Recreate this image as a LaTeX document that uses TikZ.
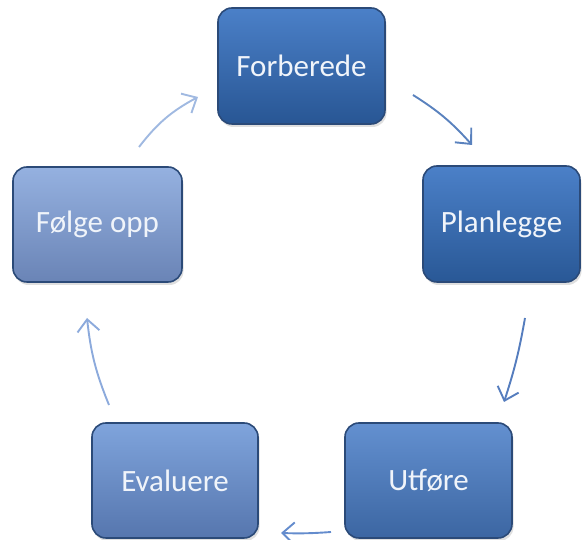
\documentclass[tikz,border=0pt]{standalone}
\usepackage{fontspec}
\setmainfont{Carlito}
\usetikzlibrary{arrows.meta,shadows}
\definecolor{bordc}{HTML}{2B4A78}
\definecolor{txtc}{HTML}{F0F4FA}
\definecolor{fT}{HTML}{4B80C8}\definecolor{fB}{HTML}{285694}
\definecolor{pT}{HTML}{4B80C8}\definecolor{pB}{HTML}{295896}
\definecolor{uT}{HTML}{6390D0}\definecolor{uB}{HTML}{3C66A2}
\definecolor{eT}{HTML}{7FA4DC}\definecolor{eB}{HTML}{5676AE}
\definecolor{gT}{HTML}{95B1E0}\definecolor{gB}{HTML}{6A84B6}
\definecolor{ar1}{RGB}{160,185,225}
\definecolor{ar2}{RGB}{90,130,190}
\definecolor{ar3}{RGB}{85,125,190}
\definecolor{ar4}{RGB}{100,140,205}
\definecolor{ar5}{RGB}{140,170,220}
\tikzset{
  stagebox/.style={draw=bordc, line width=1.6pt, rounded corners=14pt,
    minimum width=167pt, minimum height=116pt, inner sep=0pt,
    text=txtc, font=\fontsize{31}{36}\selectfont,
    drop shadow={shadow xshift=1.5pt, shadow yshift=-3pt, opacity=0.25}},
  flowarrow/.style={line width=1.9pt, -{Straight Barb[length=12pt,width=22pt,line width=1.9pt]}},
}
\begin{document}
\begin{tikzpicture}[x=1pt,y=1pt]
\useasboundingbox (0,0) rectangle (582,540);
\node[stagebox, top color=fT, bottom color=fB] (forb) at (301.5,474) {Forberede};
\node[stagebox, minimum width=157pt, top color=pT, bottom color=pB] (plan) at (501.5,316) {Planlegge};
\node[stagebox, minimum height=115pt, top color=uT, bottom color=uB] (utf) at (428.5,59.5) {Utføre};
\node[stagebox, minimum width=166pt, minimum height=115pt, top color=eT, bottom color=eB] (eval) at (175,59.5) {Evaluere};
\node[stagebox, minimum width=169pt, minimum height=115pt, top color=gT, bottom color=gB] (folg) at (97.5,315.5) {Følge opp};
\coordinate (a1s) at (139,393);
\coordinate (a1e) at (198,443);
\coordinate (a2s) at (413,445);
\coordinate (a2e) at (472,395);
\coordinate (a3s) at (525,222);
\coordinate (a3e) at (504,138);
\coordinate (a4s) at (331,8);
\coordinate (a4e) at (281,7);
\coordinate (a5s) at (109,135);
\coordinate (a5e) at (87,222);
\draw[flowarrow, draw=ar1] (a1s) to[bend left=12] (a1e);
\draw[flowarrow, draw=ar2] (a2s) to[bend left=8] (a2e);
\draw[flowarrow, draw=ar3] (a3s) to[bend left=4] (a3e);
\draw[flowarrow, draw=ar4] (a4s) to[bend left=3] (a4e);
\draw[flowarrow, draw=ar5] (a5s) to[bend left=8] (a5e);
\end{tikzpicture}
\end{document}
